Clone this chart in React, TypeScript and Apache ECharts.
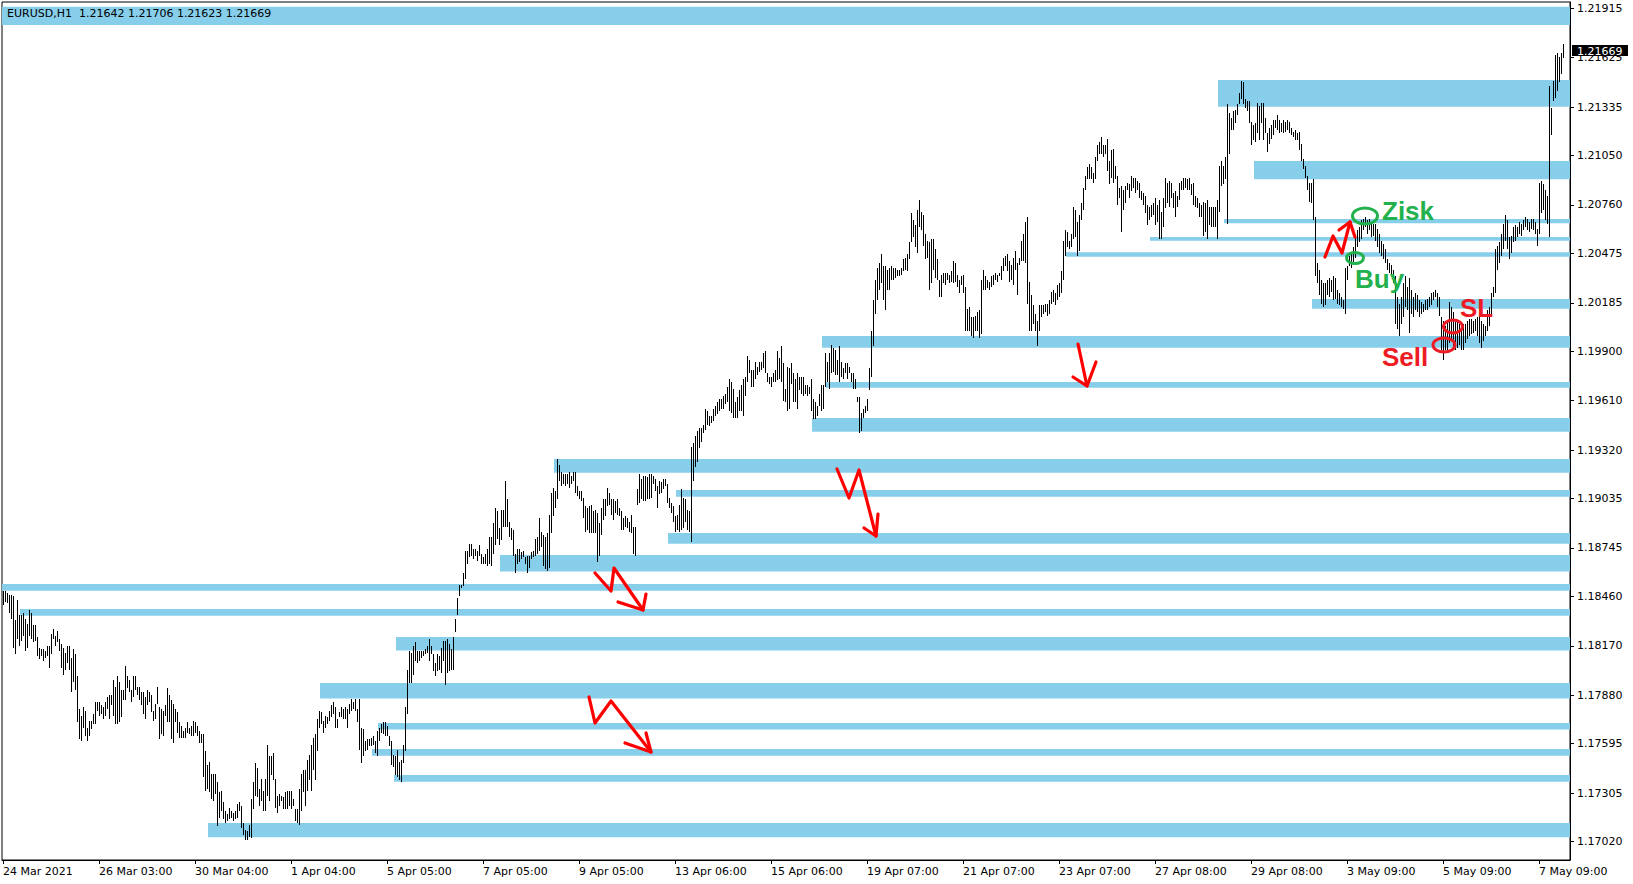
import React, { useEffect, useRef } from "react";
import * as echarts from "echarts";

const BASE_PRICE = 1.17;
const PIP = 0.0001;

// EURUSD H1 bar highs, in pips above 1.17000, one value per bar
const highPips = [
  149,149,148,147,147,146,132,144,135,135,
  136,133,130,138,136,129,129,122,116,115,
  115,114,117,117,124,127,123,126,121,118,
  116,113,117,117,110,115,112,99,80,76,
  81,79,69,73,73,77,84,84,84,82,
  81,84,87,88,88,97,93,99,96,91,
  91,105,99,97,91,99,99,93,93,90,
  90,87,91,90,88,79,83,93,81,80,
  79,82,92,88,85,83,80,78,72,70,
  67,69,72,69,70,73,72,70,67,65,
  65,55,47,49,42,42,42,37,31,32,
  25,20,18,22,20,19,20,24,25,23,
  13,9,8,12,27,37,48,45,33,39,
  32,39,59,52,52,54,39,29,30,29,
  28,31,32,32,32,27,21,21,33,42,
  44,44,50,53,59,63,65,74,79,78,
  73,76,75,79,82,84,81,74,78,81,
  80,81,80,83,86,84,86,80,86,69,
  68,61,62,62,63,64,61,67,69,71,
  72,72,70,64,61,53,52,56,49,
  50,59,81,103,114,113,117,119,114,114,
  114,114,115,117,121,117,112,107,112,111,
  116,120,120,121,118,115,122,133,145,153,
  153,160,173,173,177,177,174,174,173,176,
  171,169,171,174,181,181,189,198,196,186,
  197,197,214,203,190,186,185,171,174,174,
  172,173,169,170,170,172,173,180,181,192,
  184,182,181,183,194,207,210,208,227,223,
  219,218,218,218,219,217,219,219,211,208,
  208,204,199,198,199,200,196,197,195,189,
  198,203,203,210,207,203,203,202,203,198,
  196,192,193,192,190,194,187,187,209,218,
  215,217,217,216,218,218,217,215,211,214,
  213,215,215,212,204,201,199,193,194,200,
  209,204,203,197,196,234,236,240,243,245,
  245,247,256,255,252,252,256,258,260,262,
  262,264,265,269,274,272,268,260,263,267,
  270,274,275,287,285,279,279,284,281,284,
  284,289,290,277,275,275,277,279,290,286,
  293,283,268,281,280,283,277,274,277,275,
  275,275,270,270,269,274,262,260,258,265,
  270,270,289,284,289,294,292,291,285,293,
  284,280,283,283,281,277,277,274,263,263,
  254,256,258,262,280,302,320,332,339,342,
  347,340,340,338,339,340,339,339,338,338,
  339,344,345,347,354,371,367,364,373,379,
  372,370,359,355,354,356,356,350,344,332,
  335,336,336,336,335,337,343,342,335,332,
  334,335,328,315,316,310,310,311,313,314,
  332,338,334,332,331,334,335,336,335,336,
  340,345,346,347,343,341,345,349,342,345,
  355,359,366,369,331,323,317,312,308,317,
  317,317,318,318,320,325,326,324,329,330,
  337,355,361,360,355,359,375,373,366,370,
  377,386,393,398,400,398,395,404,411,413,
  416,411,411,415,402,408,409,399,393,386,
  387,385,387,389,388,393,392,392,390,389,
  384,383,381,376,375,376,377,380,376,379,
  372,380,392,389,390,389,383,384,381,389,
  390,392,392,391,392,388,389,381,380,377,
  376,378,377,379,375,375,375,375,379,399,
  402,399,404,435,430,427,431,432,435,442,
  449,448,438,437,437,425,423,424,436,434,
  436,436,427,418,421,423,426,426,429,426,
  424,426,425,426,425,421,419,420,418,419,
  412,403,399,393,389,389,391,369,342,338,
  332,330,330,332,333,332,334,333,326,324,
  322,320,339,340,346,348,351,358,361,363,
  367,368,369,367,368,366,365,365,362,359,
  355,353,350,344,342,341,338,334,322,318,
  322,330,334,328,333,326,322,324,323,320,
  319,318,320,321,322,324,325,326,324,322,
  310,308,305,308,319,316,313,307,308,306,
  305,306,306,308,309,309,308,309,310,311,
  308,306,305,314,316,324,328,350,352,354,
  359,365,370,367,357,358,363,364,363,366,
  365,367,369,368,366,368,368,366,362,389,
  390,388,385,381,446,433,449,464,465,463,
  465,470.6,
];

// EURUSD H1 bar lows, in pips above 1.17000
const lowPips = [
  141,143,142,136,133,116,112,121,117,120,
  123,114,116,123,121,119,120,111,109,111,
  108,110,111,104,112,121,117,119,114,104,
  100,103,107,103,90,96,91,72,62,61,
  69,64,61,64,68,71,71,79,76,77,
  74,76,80,74,82,76,71,71,72,75,
  85,85,92,90,84,87,91,88,85,82,
  77,74,82,84,78,73,74,83,62,65,
  64,76,72,72,62,60,72,66,63,63,
  63,63,66,65,64,64,66,64,60,60,
  40,32,33,31,27,26,30,11,16,20,
  15,13,14,15,16,14,15,16,20,10,
  6,3,3,5,4,21,29,28,23,26,
  20,20,29,26,41,38,22,19,23,26,
  21,21,21,23,21,23,14,13,12,20,
  31,23,32,38,32,44,38,55,69,71,
  66,69,71,73,75,77,69,69,75,75,
  74,74,69,77,79,80,79,72,56,48,
  52,55,56,58,58,59,54,52,61,66,
  65,64,64,58,47,46,41,40,38,
  37,48,55,77,95,95,100,108,107,108,
  110,111,112,113,108,112,102,99,102,103,
  101,108,94,101,102,103,103,125,135,146,
  151,152,156,165,169,170,168,170,167,170,
  165,165,165,164,165,164,171,176,180,176,
  179,187,187,187,181,179,170,160,165,166,
  168,169,165,160,163,168,169,170,171,173,
  175,164,162,161,163,183,193,198,203,214,
  211,212,211,212,210,212,214,207,205,203,
  202,192,184,185,183,183,183,183,166,170,
  182,191,193,199,200,194,191,195,194,193,
  185,185,187,186,184,183,171,170,200,201,
  203,202,202,203,203,204,212,208,198,206,
  207,209,211,201,198,195,190,184,185,184,
  185,186,190,185,184,178,214,222,225,233,
  237,242,244,247,246,248,249,252,253,255,
  256,256,259,260,255,254,251,251,251,255,
  255,252,264,272,277,269,269,274,276,278,
  279,280,277,272,271,269,272,272,273,274,
  272,261,260,255,256,271,260,260,256,267,
  265,264,265,264,265,255,250,250,252,258,
  255,256,269,272,268,277,278,276,276,272,
  275,274,277,274,277,272,268,268,260,242,
  243,251,254,255,267,275,293,312,320,326,
  330,320,314,326,326,332,332,333,334,334,
  335,337,338,337,344,354,357,351,348,363,
  361,352,344,345,326,330,338,333,332,322,
  322,330,329,332,330,331,330,331,328,324,
  329,324,302,302,302,299,298,302,302,298,
  300,326,326,327,326,328,329,332,331,334,
  332,337,340,337,331,332,329,338,323,341,
  343,343,342,318,302,302,306,302,293,302,
  310,312,313,311,312,318,319,317,320,322,
  324,332,346,351,350,351,356,357,346,349,
  367,373,385,391,391,391,389,391,402,406,
  406,404,406,396,388,392,389,391,376,380,
  360,373,377,385,380,384,386,383,385,380,
  379,376,371,364,367,369,370,364,366,356,
  356,363,374,377,375,380,374,369,375,379,
  385,385,386,385,385,382,376,375,374,369,
  369,358,360,356,364,363,363,363,356,372,
  387,388,391,365,406,420,420,424,429,435,
  438,435,433,431,424,411,414,413,418,414,
  424,414,418,407,412,415,417,421,420,418,
  419,418,419,420,418,417,416,414,414,408,
  402,397,392,385,378,377,367,334,330,323,
  318,316,317,323,322,325,320,321,318,317,
  316,315,312,332,340,339,342,345,351,354,
  356,361,363,359,361,357,358,355,351,348,
  346,344,342,338,336,334,330,306,303,299,
  306,310,316,314,301,312,310,314,313,310,
  312,313,314,314,316,317,320,322,316,311,
  291,285,291,289,295,296,293,291,292,294,
  291,291,295,297,299,300,301,302,299,295,
  292,296,299,302,305,310,322,324,338,342,
  346,350,355,350,344,348,354,355,357,359,
  358,361,363,361,360,362,361,359,352,359,
  371,373,367,365,357,417,437,439,443,448,
  453,462.3,
];

const timeLabels = [
  "24 Mar 2021", "26 Mar 03:00", "30 Mar 04:00", "1 Apr 04:00", "5 Apr 05:00",
  "7 Apr 05:00", "9 Apr 05:00", "13 Apr 06:00", "15 Apr 06:00", "19 Apr 07:00",
  "21 Apr 07:00", "23 Apr 07:00", "27 Apr 08:00", "29 Apr 08:00", "3 May 09:00",
  "5 May 09:00", "7 May 09:00",
];
const LABEL_EVERY = 48;
const TOTAL_SLOTS = 784;

const priceLabels = [
  1.1702, 1.17305, 1.17595, 1.1788, 1.1817, 1.1846, 1.18745, 1.19035, 1.1932,
  1.1961, 1.199, 1.20185, 1.20475, 1.2076, 1.2105, 1.21335, 1.21625, 1.21915,
];
const lastPrice = 1.21669;
const headerText = "EURUSD,H1  1.21642 1.21706 1.21623 1.21669";

// support / resistance zones: first bar, low and high (pips above 1.17000)
const zoneStartBar = [0, 608, 626, 611, 574, 532, 655, 410, 412, 405, 276, 337, 333, 249, 0, 9, 197, 159, 188, 185, 196, 103];
const zoneLowPips = [481.7, 433.7, 391.1, 365.2, 355, 345.6, 315, 292.1, 268.6, 242.8, 218.7, 204.6, 177, 160.6, 149.4, 134.7, 114.2, 86, 67.8, 52.5, 37.2, 4.5];
const zoneHighPips = [492.4, 449.4, 401.8, 367.7, 357.2, 348.2, 320.7, 299, 272, 250.8, 226.8, 208.5, 183.3, 170.4, 153.3, 138.6, 122.2, 95.2, 71.7, 56.4, 41.1, 12.9];

const RED = "#FF0000";
const MARK_RED = "#ED1C24";
const GREEN = "#22B14C";
const ZONE = "#87CEEB";
const AXIS_FONT = "DejaVu Sans";

function buildOption() {
  const n = Math.min(highPips.length, lowPips.length);
  const bars: number[][] = [];
  for (let i = 0; i < n; i++) {
    bars.push([i, BASE_PRICE + highPips[i] * PIP, BASE_PRICE + lowPips[i] * PIP]);
  }
  const zones = zoneStartBar.map((s, k) => [
    s,
    BASE_PRICE + zoneLowPips[k] * PIP,
    BASE_PRICE + zoneHighPips[k] * PIP,
  ]);
  const cats = Array.from({ length: TOTAL_SLOTS }, (_, i) => String(i));

  return {
    animation: false,
    backgroundColor: "#ffffff",
    grid: {
      left: 2,
      right: 63,
      top: 2,
      bottom: 24,
      show: true,
      borderColor: "#000",
      borderWidth: 1,
      backgroundColor: "transparent",
    },
    xAxis: {
      type: "category",
      data: cats,
      boundaryGap: true,
      axisLine: { show: true, lineStyle: { color: "#000", width: 1 } },
      axisTick: {
        show: true,
        alignWithLabel: true,
        length: 4,
        interval: (idx: number) => idx % LABEL_EVERY === 0,
        lineStyle: { color: "#000" },
      },
      axisLabel: {
        interval: (idx: number) => idx % LABEL_EVERY === 0 && idx / LABEL_EVERY < timeLabels.length,
        formatter: (_v: string, idx: number) =>
          idx % LABEL_EVERY === 0 ? timeLabels[idx / LABEL_EVERY] || "" : "",
        align: "left",
        margin: 6,
        color: "#000",
        fontFamily: AXIS_FONT,
        fontSize: 11,
      },
      splitLine: { show: false },
    },
    yAxis: {
      type: "value",
      position: "right",
      min: 1.16912,
      max: 1.21952,
      axisLine: { show: true, onZero: false, lineStyle: { color: "#000", width: 1 } },
      axisTick: { show: true, length: 4, customValues: priceLabels, lineStyle: { color: "#000" } },
      axisLabel: {
        customValues: priceLabels,
        formatter: (v: number) => v.toFixed(5),
        margin: 7,
        color: "#000",
        fontFamily: AXIS_FONT,
        fontSize: 11,
      },
      splitLine: { show: false },
    },
    series: [
      {
        type: "custom",
        name: "zones",
        z: 1,
        silent: true,
        encode: { x: 0, y: [1, 2] },
        data: zones,
        renderItem: (params: any, api: any) => {
          const a = api.coord([api.value(0), api.value(2)]);
          const b = api.coord([api.value(0), api.value(1)]);
          const cs = params.coordSys;
          const x0 = Math.round(a[0]) - 1;
          return {
            type: "rect",
            shape: { x: x0, y: a[1], width: cs.x + cs.width - x0, height: b[1] - a[1] },
            style: { fill: ZONE },
          };
        },
      },
      {
        type: "custom",
        name: "EURUSD",
        z: 3,
        silent: true,
        encode: { x: 0, y: [1, 2] },
        data: bars,
        renderItem: (_params: any, api: any) => {
          const top = api.coord([api.value(0), api.value(1)]);
          const bot = api.coord([api.value(0), api.value(2)]);
          const x = Math.round(top[0]) + 0.5;
          const y1 = Math.round(top[1]);
          const y2 = Math.max(Math.round(bot[1]), y1 + 1);
          return {
            type: "line",
            shape: { x1: x, y1, x2: x, y2 },
            style: { stroke: "#000", lineWidth: 1 },
          };
        },
      },
    ],
  };
}

function buildGraphics(priceY: number, gridRight: number) {
  const arrow = (pts: number[][], head: number[][]) => [
    {
      type: "polyline",
      shape: { points: pts },
      style: { stroke: RED, lineWidth: 3.2, fill: "none", lineJoin: "round", lineCap: "round" },
      z: 20,
    },
    {
      type: "polyline",
      shape: { points: head },
      style: { stroke: RED, lineWidth: 3.2, fill: "none", lineJoin: "round", lineCap: "round" },
      z: 20,
    },
  ];
  const ring = (cx: number, cy: number, rx: number, ry: number, color: string) => ({
    type: "ellipse",
    shape: { cx, cy, rx, ry },
    style: { stroke: color, lineWidth: 3, fill: "none" },
    z: 20,
  });
  const label = (text: string, x: number, y: number, color: string) => ({
    type: "text",
    x,
    y,
    style: {
      text,
      fill: color,
      font: 'bold 26px "Liberation Sans"',
      align: "left",
      verticalAlign: "middle",
    },
    z: 21,
  });
  return [
    {
      type: "text",
      x: 7,
      y: 13,
      z: 30,
      style: {
        text: headerText,
        fill: "#000",
        font: '11px "DejaVu Sans"',
        align: "left",
        verticalAlign: "middle",
      },
    },
    {
      type: "rect",
      z: 40,
      shape: { x: gridRight + 2, y: Math.round(priceY) - 5, width: 56, height: 11 },
      style: { fill: "#000" },
    },
    {
      type: "text",
      z: 41,
      x: gridRight + 7,
      y: Math.round(priceY) + 1,
      style: {
        text: lastPrice.toFixed(5),
        fill: "#fff",
        font: '11px "DejaVu Sans"',
        align: "left",
        verticalAlign: "middle",
      },
    },
    ...arrow([[595, 573], [611, 591], [614, 568], [643, 610]], [[618, 602], [643, 610], [646, 594]]),
    ...arrow([[589, 697], [595, 723], [611, 701], [651, 752]], [[625, 743], [651, 752], [646, 733]]),
    ...arrow([[837, 469], [849, 498], [859, 470], [876, 536]], [[864, 528], [876, 536], [878, 514]]),
    ...arrow([[1078, 344], [1087, 386]], [[1073, 377], [1087, 386], [1096, 362]]),
    ...arrow([[1325, 257], [1333, 236], [1342, 253], [1350, 222]], [[1339, 230], [1350, 222], [1355, 237]]),
    ring(1365, 216, 12.5, 8, GREEN),
    ring(1355, 258, 8.5, 5.5, GREEN),
    ring(1453, 326.5, 9.5, 6.5, MARK_RED),
    ring(1444, 345, 11, 7, MARK_RED),
    label("Zisk", 1382, 211, GREEN),
    label("Buy", 1355, 279, GREEN),
    label("SL", 1460, 308, MARK_RED),
    label("Sell", 1382, 357, MARK_RED),
  ];
}

export default function App() {
  const ref = useRef<HTMLDivElement | null>(null);
  useEffect(() => {
    if (!ref.current) return;
    const chart = echarts.init(ref.current, null, { renderer: "svg" });
    chart.setOption(buildOption() as any);
    const py = chart.convertToPixel({ yAxisIndex: 0 } as any, lastPrice) as unknown as number;
    const gridRight = 1633 - 63;
    chart.setOption({ graphic: buildGraphics(py, gridRight) } as any);
    return () => {
      chart.dispose();
    };
  }, []);
  return (
    <div
      ref={ref}
      style={{ position: "absolute", left: 0, top: 0, width: 1633, height: 884, background: "#fff" }}
    />
  );
}
